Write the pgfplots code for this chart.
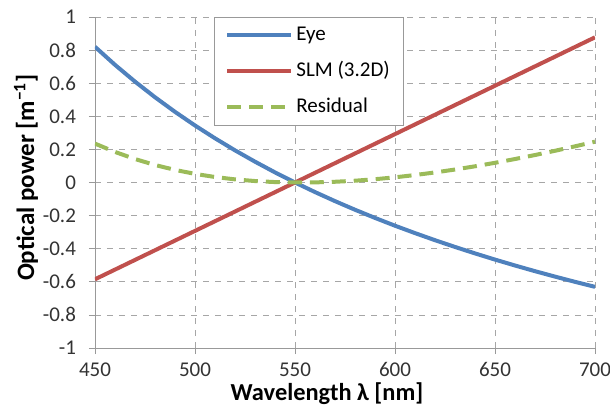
\documentclass[border=0pt]{standalone}
\usepackage{fontspec}
\setmainfont{Carlito}
\usepackage{pgfplots}
\pgfplotsset{compat=1.18}
\definecolor{eyeblue}{HTML}{4F81BD}
\definecolor{slmred}{HTML}{C0504D}
\definecolor{resgreen}{HTML}{9BBB59}
\begin{document}
\begin{tikzpicture}
\path[use as bounding box] (-47.5pt,-29.5pt) rectangle (257.5pt,174pt);
\begin{axis}[
  at={(0,0)}, anchor=south west,
  scale only axis, width=250pt, height=165.5pt,
  xmin=450, xmax=700, ymin=-1, ymax=1,
  xtick={450,500,...,700}, ytick={-1,-0.8,...,1},
  axis x line=bottom, axis y line=left,
  axis line style={gray!80, -},
  tick style={gray!80, thin}, tick align=outside, major tick length=3pt,
  grid=major, major grid style={gray!70, dashed, thin},
  every tick label/.append style={font=\fontsize{10.5}{12}\selectfont, text=black!80},
  /pgf/number format/assume math mode=true,
  yticklabel style={/pgf/number format/fixed, /pgf/number format/precision=1, xshift=-3pt},
  xticklabel style={/pgf/number format/1000 sep={}, anchor=base, inner sep=0pt, yshift=-11pt},
  xlabel={\textbf{Wavelength λ [nm]}},
  ylabel={\textbf{Optical power [m\textsuperscript{−1}]}},
  label style={font=\fontsize{12.5}{14}\selectfont},
  xlabel style={font=\fontsize{12.2}{14}\selectfont, at={(axis description cs:0.464,0)}, anchor=base, inner sep=0pt, yshift=-26pt},
  ylabel style={at={(axis description cs:0,0.515)}, anchor=center, yshift=34.5pt},
  legend style={at={(0.238,1)}, anchor=north west, draw=gray!80, fill=white,
    font=\fontsize{10.5}{12}\selectfont, row sep=5pt, column sep=0pt,
    inner xsep=5.5pt, inner ysep=2.5pt,
    nodes={inner xsep=1.5pt, inner ysep=2pt, text height=7pt, text depth=2pt}},
  legend cell align=left,
  legend image code/.code={\draw[#1] (0pt,0pt) -- (32pt,0pt);},
]
\addplot[eyeblue, line width=2pt] coordinates {
(450,0.8200) (460,0.7109) (470,0.6096) (480,0.5152) (490,0.4270) (500,0.3445)
(510,0.2671) (520,0.1943) (530,0.1258) (540,0.0611) (550,0.0000) (560,-0.0578)
(570,-0.1126) (580,-0.1646) (590,-0.2140) (600,-0.2611) (610,-0.3058) (620,-0.3486)
(630,-0.3894) (640,-0.4284) (650,-0.4658) (660,-0.5015) (670,-0.5358) (680,-0.5686)
(690,-0.6002) (700,-0.6305)};
\addlegendentry{Eye}
\addplot[slmred, line width=2pt] coordinates {
(450,-0.5848) (500,-0.2924) (550,0) (600,0.2924) (650,0.5848) (700,0.8772)};
\addlegendentry{SLM (3.2D)}
\addplot[resgreen, line width=2pt, dash pattern=on 7pt off 4pt] coordinates {
(450,0.2350) (460,0.1846) (470,0.1418) (480,0.1058) (490,0.0761) (500,0.0521)
(510,0.0332) (520,0.0189) (530,0.0088) (540,0.0026) (550,0.0000) (560,0.0007)
(570,0.0044) (580,0.0108) (590,0.0199) (600,0.0313) (610,0.0451) (620,0.0608)
(630,0.0784) (640,0.0979) (650,0.1190) (660,0.1418) (670,0.1660) (680,0.1916)
(690,0.2185) (700,0.2467)};
\addlegendentry{Residual}
\end{axis}
\end{tikzpicture}
\end{document}
